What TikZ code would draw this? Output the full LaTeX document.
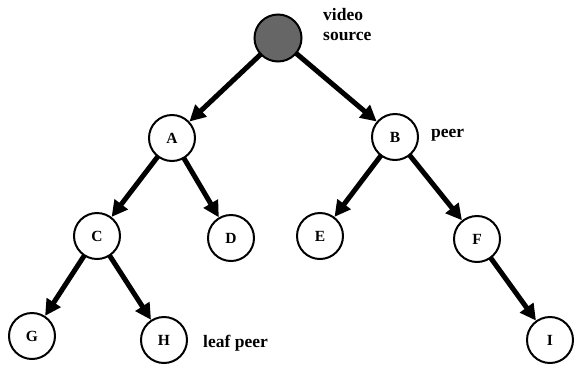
\documentclass[tikz,border=0pt]{standalone}
\usepackage{fontspec}
\setmainfont{Liberation Serif}
\usetikzlibrary{arrows.meta}
\begin{document}
\begin{tikzpicture}[x=1pt,y=-1pt,
  peernode/.style={circle,draw,line width=2pt,minimum size=46pt,inner sep=0pt,font=\fontsize{15.5}{17}\selectfont\bfseries,fill=white},
  lbl/.style={font=\fontsize{17.5}{20}\selectfont\bfseries,align=left,inner sep=0pt,anchor=west},
  edge/.style={line width=5pt,-{Triangle[length=16pt,width=16pt]},shorten <=-1pt}]
\useasboundingbox (0,0) rectangle (575,365);
\node[peernode,minimum size=47pt,fill=black!60] (S) at (278,38) {};
\node[peernode] (A) at (172,138) {A};
\node[peernode] (B) at (395,137) {B};
\node[peernode] (C) at (97,236) {C};
\node[peernode] (D) at (231,238) {D};
\node[peernode] (E) at (320,236) {E};
\node[peernode] (F) at (477,239) {F};
\node[peernode] (G) at (32,336) {G};
\node[peernode] (H) at (164,340) {H};
\node[peernode] (I) at (550,340) {I};
\node[lbl] (vs) at (323,25) {video\\source};
\node[lbl] (pl) at (431,135) {peer};
\node[lbl] (lp) at (203,343) {leaf peer};
\draw[edge] (S) -- (A);
\draw[edge] (S) -- (B);
\draw[edge] (A) -- (C);
\draw[edge] (A) -- (D);
\draw[edge] (B) -- (E);
\draw[edge] (B) -- (F);
\draw[edge] (C) -- (G);
\draw[edge] (C) -- (H);
\draw[edge] (F) -- (I);
\end{tikzpicture}
\end{document}
